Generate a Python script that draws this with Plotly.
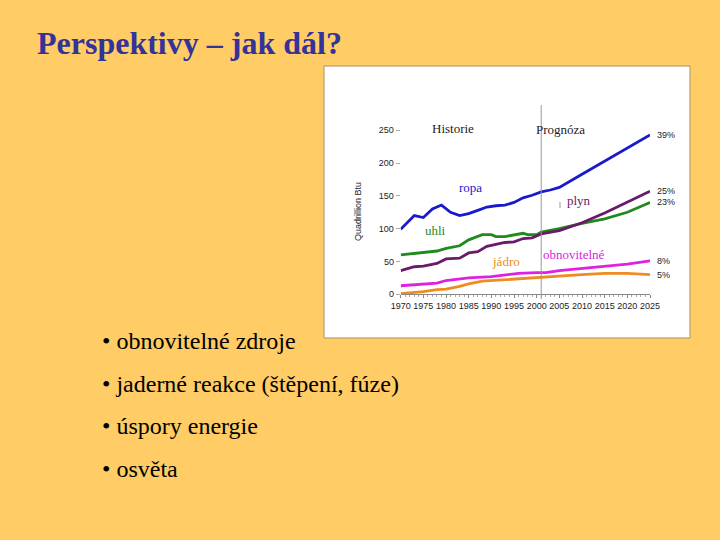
import plotly.graph_objects as go

# world energy consumption by fuel, quadrillion Btu (history + forecast)
ropa_years = [1970, 1973, 1975, 1977, 1979, 1981, 1983, 1985, 1987, 1989, 1991, 1993,
              1995, 1997, 1999, 2001, 2003, 2005, 2010, 2015, 2020, 2025]
ropa = [99, 120, 117, 130, 136, 125, 120, 123, 128, 133, 135, 136,
        140, 147, 151, 156, 159, 163, 183, 203, 222, 243]

uhli_years = [1970, 1973, 1975, 1978, 1980, 1983, 1985, 1988, 1990, 1991, 1993,
              1995, 1997, 1998, 2000, 2001, 2005, 2010, 2015, 2020, 2025]
uhli = [60, 62, 63, 66, 70, 74, 83, 91, 91, 88, 88,
        91, 93, 91, 91, 95, 100, 108, 115, 125, 140]

plyn_years = [1970, 1973, 1975, 1978, 1980, 1983, 1985, 1987, 1989, 1991, 1993,
              1995, 1997, 1999, 2001, 2005, 2010, 2015, 2020, 2025]
plyn = [36, 42, 43, 47, 54, 55, 63, 65, 73, 76, 79,
        80, 85, 86, 92, 97, 109, 124, 140, 157]

obnov_years = [1970, 1975, 1978, 1980, 1985, 1990, 1993, 1996, 2000, 2002,
               2005, 2010, 2015, 2020, 2025]
obnov = [13, 15, 17, 21, 25, 27, 30, 32, 33, 33, 36, 39, 42, 46, 51]

jadro_years = [1970, 1975, 1978, 1980, 1983, 1985, 1988, 1990, 1995, 2000,
               2005, 2010, 2015, 2020, 2025]
jadro = [1, 4, 7, 8, 12, 16, 20, 21, 23, 26, 28, 30, 32, 32, 30]

share_labels = ["39%", "25%", "23%", "8%", "5%"]
share_values = [243, 157, 140, 51, 30]

bullets = ["• obnovitelné zdroje", "• jaderné reakce (štěpení, fúze)",
           "• úspory energie", "• osvěta"]

W, H = 720, 540


def px_x(v):
    return v / W


def px_y(v):
    return 1 - v / H


fig = go.Figure()

series = [
    (ropa_years, ropa, "#1a1acc"),
    (uhli_years, uhli, "#1f8a1f"),
    (plyn_years, plyn, "#6a1a6a"),
    (obnov_years, obnov, "#e020e0"),
    (jadro_years, jadro, "#ee8c22"),
]
for xs, ys, col in series:
    fig.add_trace(go.Scatter(x=xs, y=ys, mode="lines",
                             line=dict(color=col, width=2.8), hoverinfo="skip"))

# white chart panel
fig.add_shape(type="rect", xref="paper", yref="paper",
              x0=px_x(324), x1=px_x(690), y0=px_y(338), y1=px_y(66),
              fillcolor="white", line=dict(color="#a89060", width=1), layer="below")

# history / forecast divider
fig.add_shape(type="line", xref="x", yref="paper", x0=2001, x1=2001,
              y0=px_y(299), y1=px_y(105), line=dict(color="#999999", width=1))
# small stray tick next to the gas label
fig.add_shape(type="line", xref="paper", yref="paper", x0=px_x(560), x1=px_x(560),
              y0=px_y(208), y1=px_y(202), line=dict(color="#999999", width=1))

serif = "Liberation Serif"
sans = "Liberation Sans"
ann = []
for txt, x, y in [("Historie", 453, 119), ("Prognóza", 587, 120)]:
    ann.append(dict(x=px_x(x), y=px_y(y), xref="paper", yref="paper", text=txt,
                    showarrow=False, font=dict(family=serif, size=13, color="#222222")))

for txt, x, y, col in [
    ("ropa", 1985.3, 163, "#1a1acc"),
    ("uhli", 1977.6, 98, "#1f8a1f"),
    ("plyn", 2009.3, 143, "#6a1a6a"),
    ("jádro", 1993.2, 50, "#ee8c22"),
    ("obnovitelné", 2008.3, 60, "#e020e0"),
]:
    ann.append(dict(x=x, y=y, xref="x", yref="y", text=txt, showarrow=False,
                    font=dict(family=serif, size=13, color=col)))

for lab, v in zip(share_labels, share_values):
    ann.append(dict(x=1.022, y=v, xref="x domain", yref="y", text=lab, showarrow=False,
                    xanchor="left", font=dict(family=sans, size=9, color="#222222")))

ann.append(dict(x=px_x(358), y=px_y(212), xref="paper", yref="paper",
                text="Quadrillion Btu", textangle=-90, showarrow=False,
                font=dict(family=sans, size=9, color="#222222")))

ann.append(dict(x=px_x(35), y=px_y(43), xref="paper", yref="paper",
                text="<b>Perspektivy – jak dál?</b>", showarrow=False,
                xanchor="left", yanchor="middle",
                font=dict(family=serif, size=32, color="#333399")))

for i, b in enumerate(bullets):
    ann.append(dict(x=px_x(100), y=px_y(341 + i * 42.7), xref="paper", yref="paper",
                    text=b, showarrow=False, xanchor="left", yanchor="middle",
                    font=dict(family=serif, size=24, color="black")))

fig.update_layout(
    width=W, height=H,
    margin=dict(l=0, r=0, t=0, b=0, pad=0),
    paper_bgcolor="#ffcc66",
    plot_bgcolor="rgba(0,0,0,0)",
    showlegend=False,
    annotations=ann,
    xaxis=dict(domain=[px_x(400.7), px_x(650)], range=[1970, 2025], automargin=False,
               tickvals=list(range(1970, 2030, 5)), showgrid=False, zeroline=False,
               showline=True, linecolor="#888888", linewidth=1,
               ticks="outside", ticklen=3, tickcolor="#888888",
               minor=dict(dtick=1, ticks="outside", ticklen=2, tickcolor="#aaaaaa"),
               tickfont=dict(family=sans, size=9, color="#222222")),
    yaxis=dict(domain=[px_y(294.3), px_y(130.3)], range=[0, 250], automargin=False,
               tickvals=[0, 50, 100, 150, 200, 250], showgrid=False, zeroline=False,
               ticks="outside", ticklen=4, tickcolor="#aaaaaa",
               tickfont=dict(family=sans, size=9, color="#222222")),
)

# the slide fills the whole window, so drop the default page margin
fig.write_html("out.html", config={"displayModeBar": False},
               post_script="document.body.style.margin='0';"
                           "document.body.style.overflow='hidden';")
